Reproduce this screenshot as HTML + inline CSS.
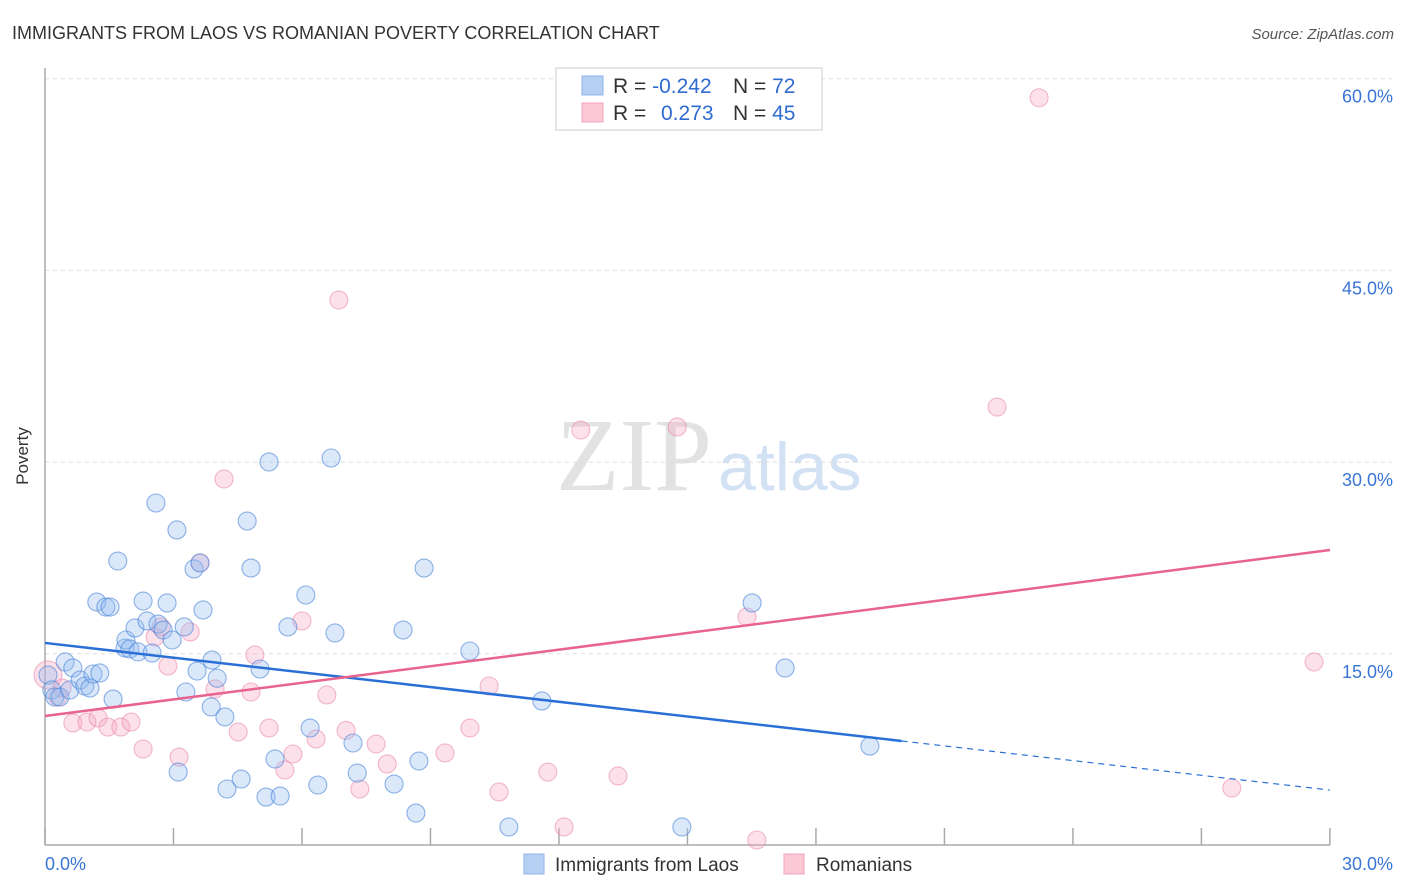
<!DOCTYPE html>
<html><head><meta charset="utf-8"><style>
body{margin:0;background:#fff;font-family:"Liberation Sans",sans-serif;}
svg{display:block}
</style></head><body>
<svg id="chart" width="1406" height="892" xmlns="http://www.w3.org/2000/svg">
<text x="12" y="39" font-size="18" fill="#333">IMMIGRANTS FROM LAOS VS ROMANIAN POVERTY CORRELATION CHART</text>
<text x="1394" y="39" font-size="15" fill="#555" font-style="italic" text-anchor="end">Source: ZipAtlas.com</text>
<g>
<text x="712" y="490" font-size="104" font-family="Liberation Serif,serif" fill="#e2e2e2" text-anchor="end">ZIP</text>
<text x="718" y="490" font-size="68" fill="#d3e1f5">atlas</text>
</g>
<g id="grid"></g><g id="axes"></g><g id="pts"></g><g id="lines"></g>
<text x="28" y="456" font-size="17" fill="#333" transform="rotate(-90 28 456)" text-anchor="middle">Poverty</text>
<g>
<rect x="556" y="68" width="266" height="62" fill="#fff" stroke="#ccc"/>
<rect x="582" y="76" width="21" height="19" fill="#b6d0f4" stroke="#8fb3e8"/>
<rect x="582" y="103" width="21" height="19" fill="#fbc8d6" stroke="#f0a3bb"/>
<text x="613" y="93" font-size="21" fill="#333">R = <tspan fill="#2f6bd0">-0.242</tspan></text>
<text x="733" y="93" font-size="21" fill="#333">N = <tspan fill="#2f6bd0">72</tspan></text>
<text x="613" y="120" font-size="21" fill="#333">R = <tspan fill="#2f6bd0" x="661">0.273</tspan></text>
<text x="733" y="120" font-size="21" fill="#333">N = <tspan fill="#2f6bd0">45</tspan></text>
</g>
<g>
<rect x="524" y="854" width="20" height="20" fill="#b6d0f4" stroke="#8fb3e8"/>
<text x="555" y="871" font-size="19" fill="#333">Immigrants from Laos</text>
<rect x="784" y="854" width="20" height="20" fill="#fbc8d6" stroke="#f0a3bb"/>
<text x="816" y="871" font-size="19" fill="#333">Romanians</text>
</g>
</svg>
<script>
const yTicks=[15,30,45,60];
const yTickLabels=["15.0%","30.0%","45.0%","60.0%"];
const xTicks=[0,3,6,9,12,15,18,21,24,27,30];
const blueX=[0.07,0.16,0.23,0.35,0.47,0.58,0.65,0.82,0.93,1.05,1.12,1.28,1.21,1.42,1.52,1.59,1.70,1.87,1.89,1.98,2.10,2.17,2.29,2.38,2.50,2.59,2.64,2.76,2.85,2.97,3.08,3.11,3.25,3.29,3.48,3.55,3.62,3.69,3.88,3.90,4.02,4.20,4.25,4.58,4.72,4.81,5.02,5.16,5.23,5.37,5.49,5.67,6.09,6.19,6.37,6.68,6.77,7.19,7.29,8.15,8.36,8.66,8.73,8.85,9.92,10.83,11.60,14.87,16.51,17.28,19.26];
const blueY=[13.34,12.17,11.62,11.62,14.36,12.17,13.89,12.95,12.48,12.32,13.42,13.50,19.05,18.66,18.66,11.46,22.26,15.45,16.08,15.38,17.02,15.15,19.13,17.57,15.06,26.80,17.33,16.86,18.98,16.08,24.69,5.75,17.10,12.01,21.64,13.65,22.11,18.43,10.84,14.51,13.09,10.06,4.42,5.20,25.39,21.71,13.81,3.79,30.01,6.77,3.87,17.10,19.60,9.19,4.73,30.32,16.63,8.02,5.67,4.81,16.86,2.54,6.61,21.71,15.22,1.45,11.31,1.45,18.98,13.89,7.78];
const pinkX=[0.07,0.30,0.40,0.65,0.98,1.24,1.47,1.77,2.01,2.29,2.57,2.71,2.87,3.13,3.39,3.62,3.97,4.18,4.51,4.81,4.90,5.23,5.60,5.79,6.00,6.33,6.58,6.86,7.03,7.35,7.73,7.99,9.34,9.92,10.37,10.60,11.74,12.12,12.51,13.38,14.76,16.39,16.62,22.23,23.21,27.71,29.63];
const pinkY=[13.34,11.62,12.32,9.59,9.66,9.98,9.27,9.27,9.66,7.55,16.31,17.10,14.05,6.92,16.71,22.11,12.25,28.68,8.88,12.01,14.91,9.19,5.91,7.16,17.57,8.33,11.78,42.68,9.00,4.42,7.94,6.38,7.24,9.19,12.48,4.19,5.75,1.45,32.51,5.44,32.75,17.88,0.43,34.31,58.51,4.50,14.36];
const blueTrend=[15.85,4.34]; const blueSolidEnd=20.0;
const pinkTrend=[10.13,23.12];
const NS="http://www.w3.org/2000/svg";
const sx=v=>45+v*42.83, sy=v=>845.5-v*12.78;
function mk(t,a,p){const e=document.createElementNS(NS,t);for(const k in a)e.setAttribute(k,a[k]);p.appendChild(e);return e;}
const grid=document.getElementById('grid'),axes=document.getElementById('axes'),pts=document.getElementById('pts'),lines=document.getElementById('lines');
yTicks.forEach((v,i)=>{
 const l=mk('line',{x1:45,x2:1392,y1:sy(v),y2:sy(v),stroke:'#ddd','stroke-dasharray':'4,4'},grid);
 
 
 const t=mk('text',{x:1393,y:sy(v)+24,'font-size':18,fill:'#3a75d6','text-anchor':'end'},axes);
 t.textContent=yTickLabels[i];
 
 
});
const ya=mk('line',{x1:45,x2:45,y1:68,y2:845,stroke:'#aaa','stroke-width':1.5},axes);


const xa=mk('line',{x1:45,x2:1330,y1:845,y2:845,stroke:'#aaa','stroke-width':1.5},axes);


xTicks.forEach(v=>{const t=mk('line',{x1:sx(v),x2:sx(v),y1:828,y2:845,stroke:'#aaa','stroke-width':1.5},axes);
 
 });
const xl0=mk('text',{x:45,y:870,'font-size':18,fill:'#3a75d6'},axes);xl0.textContent='0.0%';


const xl1=mk('text',{x:1393,y:870,'font-size':18,fill:'#3a75d6','text-anchor':'end'},axes);xl1.textContent='30.0%';


pinkX.forEach((x,i)=>{const c=mk('circle',{cx:sx(x),cy:sy(pinkY[i]),r:i==0?14:9,fill:'rgba(247,170,195,0.35)',stroke:'rgba(233,130,165,0.55)','stroke-width':1.1},pts);
 
 });
blueX.forEach((x,i)=>{const c=mk('circle',{cx:sx(x),cy:sy(blueY[i]),r:9,fill:'rgba(150,190,240,0.35)',stroke:'rgba(70,130,215,0.6)','stroke-width':1.1},pts);
 
 });
const by=x=>blueTrend[0]+(blueTrend[1]-blueTrend[0])*x/30;
const b1=mk('line',{x1:sx(0),y1:sy(blueTrend[0]),x2:sx(blueSolidEnd),y2:sy(by(blueSolidEnd)),stroke:'#2a6fd6','stroke-width':2.5},lines);


const b2=mk('line',{x1:sx(blueSolidEnd),y1:sy(by(blueSolidEnd)),x2:sx(30),y2:sy(blueTrend[1]),stroke:'#2a6fd6','stroke-width':1.2,'stroke-dasharray':'6,5'},lines);


const p1=mk('line',{x1:sx(0),y1:sy(pinkTrend[0]),x2:sx(30),y2:sy(pinkTrend[1]),stroke:'#e8638e','stroke-width':2.5},lines);


</script>
</body></html>
